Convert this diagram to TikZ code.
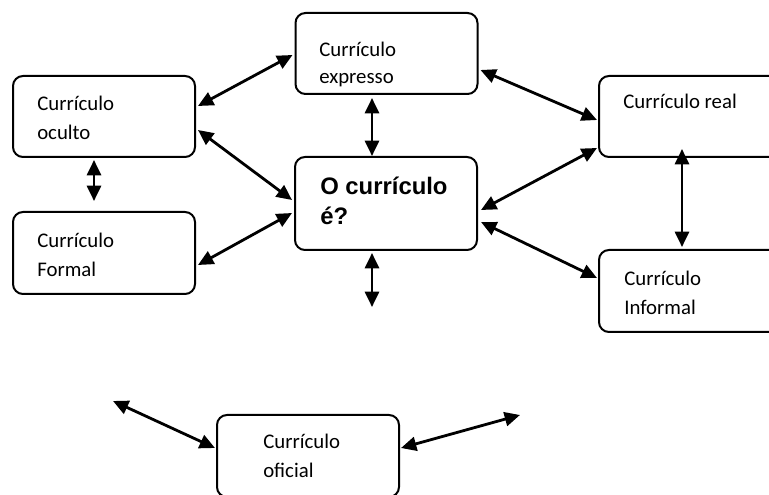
\documentclass[tikz,border=0pt]{standalone}
\usepackage{fontspec}
\setmainfont{Carlito}
\newfontfamily\negrito{Liberation Sans}
\usetikzlibrary{arrows.meta,calc}

\begin{document}
\begin{tikzpicture}[x=0.75pt,y=-0.75pt,
  caixa/.style={draw, line width=1.5pt, rounded corners=7.5pt, minimum width=136.5pt,
    minimum height=60.75pt, inner sep=0pt},
  texto/.style={anchor=base west, inner sep=0pt, align=left,
    font=\fontsize{15.6}{22.1}\selectfont},
  titulo/.style={anchor=base west, inner sep=0pt, align=left,
    font=\negrito\bfseries\fontsize{17.9}{22.5}\selectfont},
  seta/.style={line width=2.1pt,
    {Triangle[length=11.5pt,width=10.5pt]}-{Triangle[length=11.5pt,width=10.5pt]}}]
\useasboundingbox (0,0) rectangle (769,495);
\clip (0,0) rectangle (769,495);
% caixas
\node[caixa] (expresso) at (386.5,53.5) {};
\node[caixa] (oculto) at (104,116.5) {};
\node[caixa, minimum height=61.5pt] (formal) at (104,253) {};
\node[caixa, minimum height=69.75pt] (curriculo) at (386,203.5) {};
\node[caixa] (real) at (690,116.5) {};
\node[caixa, minimum height=61.5pt] (informal) at (690,291) {};
\node[caixa, minimum height=61.5pt] (oficial) at (308,456) {};
% textos (ancorados na ultima linha)
\node[texto, font=\fontsize{15.6}{20.5}\selectfont] (t-expresso) at (319,84) {Currículo\\expresso};
\node[texto] (t-oculto) at (37,140) {Currículo\\oculto};
\node[texto] (t-formal) at (37,277) {Currículo\\Formal};
\node[titulo] (t-curriculo) at (320,225) {O currículo\\é?};
\node[texto] (t-real) at (623,109) {Currículo real};
\node[texto] (t-informal) at (624,315) {Currículo\\Informal};
\node[texto] (t-oficial) at (263,478) {Currículo\\oficial};
% pontas soltas
\coordinate (baixo) at (372,307);
\coordinate (esq) at (113,401);
\coordinate (dir) at (520,415);
% setas
\draw[seta] ($(oculto.east)+(2,-10.5)$) -- ($(expresso.west)+(-2,1.5)$);
\draw[seta] ($(oculto.east)+(2,13.5)$) -- ($(curriculo.west)+(-2,-3.5)$);
\draw[seta] ($(formal.east)+(2,12)$) -- ($(curriculo.west)+(-2,9.5)$);
\draw[seta] ($(oculto.south)+(-10,2)$) -- ($(formal.north)+(-10,-10)$);
\draw[seta] ($(expresso.south)+(-14.5,3)$) -- ($(curriculo.north)+(-14,0)$);
\draw[seta] ($(curriculo.south)+(-14,2)$) -- (baixo);
\draw[seta] ($(expresso.east)+(2,16.5)$) -- ($(real.west)+(-1,3.5)$);
\draw[seta] ($(curriculo.east)+(3,6.5)$) -- ($(real.west)+(-1,31.5)$);
\draw[seta] ($(curriculo.east)+(3,18.5)$) -- ($(informal.west)+(-1,-13)$);
\draw[seta] ($(real.south)+(-8,-9)$) -- ($(informal.north)+(-8,-2)$);
\draw[seta] (esq) -- ($(oficial.west)+(-1,-8)$);
\draw[seta] ($(oficial.east)+(1,-8)$) -- (dir);
\end{tikzpicture}
\end{document}
